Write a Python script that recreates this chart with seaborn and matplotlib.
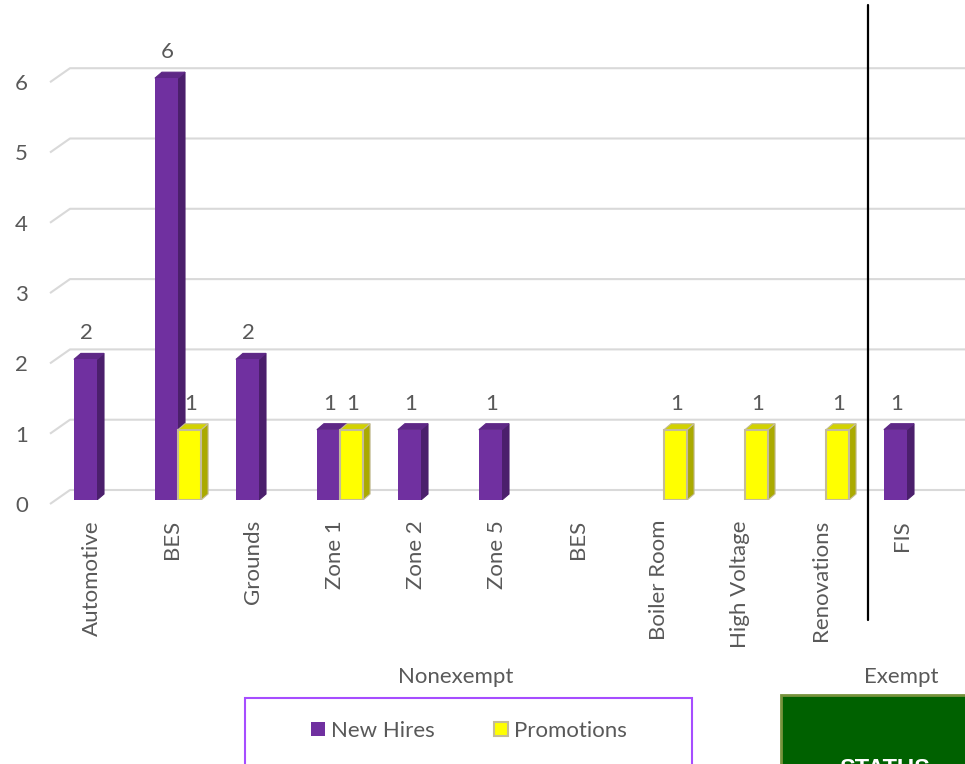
import matplotlib
matplotlib.use("Agg")
import matplotlib.pyplot as plt
from matplotlib.patches import Polygon, Rectangle, Patch
import seaborn as sns
import pandas as pd

# ---- data -------------------------------------------------------------
categories = ["Automotive", "BES", "Grounds", "Zone 1", "Zone 2", "Zone 5",
              "BES", "Boiler Room", "High Voltage", "Renovations", "FIS"]
groups = ["Nonexempt"] * 10 + ["Exempt"]
new_hires = [2, 6, 2, 1, 1, 1, 0, 0, 0, 0, 1]
promotions = [0, 1, 0, 1, 0, 0, 0, 1, 1, 1, 0]
series = ["New Hires", "Promotions"]
y_ticks = [0, 1, 2, 3, 4, 5, 6]

# ---- style ------------------------------------------------------------
PURPLE, PURPLE_SIDE, PURPLE_TOP = "#7030A0", "#4B1F6C", "#5E2886"
YELLOW, YELLOW_SIDE, YELLOW_TOP = "#FFFF00", "#AAAA00", "#D2D200"
TAN = "#C4BC98"
GRID = "#D9D9D9"
TEXT = "#595959"
FS = 16

sns.set_style("white")
plt.rcParams["font.family"] = ["Lato", "DejaVu Sans"]

W, H = 965, 764
fig = plt.figure(figsize=(W / 100, H / 100), dpi=100)
# plot area: floor front edge at 500 px, spans 50..965 px horizontally
ax = fig.add_axes([50 / W, (H - 500) / H, 915 / W, 500 / H])

SX, SY = 81.0, 70.3          # pixels per category slot / per unit of count
X0 = 97.0                    # pixel position of the first slot centre

df = pd.DataFrame({
    "slot": list(range(len(categories))) * 2,
    "count": new_hires + promotions,
    "series": [series[0]] * len(categories) + [series[1]] * len(categories),
})
sns.barplot(data=df, x="slot", y="count", hue="series", hue_order=series,
            palette=[PURPLE, YELLOW], width=0.57, gap=0, saturation=1,
            errorbar=None, legend=False, ax=ax)

ax.set_xlim((50 - X0) / SX, (965 - X0) / SX)
ax.set_ylim(0, 500 / SY)
ax.set_xticks([])
ax.set_yticks([])
ax.set_xlabel("")
ax.set_ylabel("")
for s in ax.spines.values():
    s.set_visible(False)
ax.patch.set_alpha(0)

# ---- back-wall gridlines with a short floor slant ---------------------
for v in y_ticks:
    back = v + 10 / SY
    ax.plot([(50 - X0) / SX, (70 - X0) / SX, (965 - X0) / SX],
            [v - 4 / SY, back, back],
            color=GRID, lw=1.5, clip_on=False, zorder=1,
            solid_capstyle="butt")
    ax.text((28 - X0) / SX, v - 6 / SY, str(v), ha="right", va="center",
            fontsize=FS, color=TEXT, clip_on=False)

# ---- 3D-looking bars --------------------------------------------------
dx, dy = 7 / SX, 6 / SY
face_styles = [(PURPLE_SIDE, PURPLE_TOP, "none", 3),
               (YELLOW_SIDE, YELLOW_TOP, TAN, 4)]
for cont, (side_c, top_c, edge_c, z) in zip(ax.containers, face_styles):
    for bar in cont.patches:
        x0, w, h = bar.get_x(), bar.get_width(), bar.get_height()
        if h <= 0:
            bar.set_visible(False)
            continue
        bar.set_zorder(z)
        if edge_c != "none":
            bar.set_edgecolor(edge_c)
            bar.set_linewidth(1.5)
        else:
            bar.set_edgecolor("none")
        x1 = x0 + w
        side = Polygon([(x1, 0), (x1 + dx, dy), (x1 + dx, h + dy), (x1, h)],
                       closed=True, facecolor=side_c,
                       edgecolor=edge_c if edge_c != "none" else side_c,
                       lw=0.8, zorder=z - 0.1)
        top = Polygon([(x0, h), (x1, h), (x1 + dx, h + dy), (x0 + dx, h + dy)],
                      closed=True, facecolor=top_c,
                      edgecolor=edge_c if edge_c != "none" else top_c,
                      lw=0.8, zorder=z - 0.1)
        ax.add_patch(side)
        ax.add_patch(top)
        ax.annotate(f"{int(h)}", (x0 + w / 2, h), xytext=(1, 26),
                    textcoords="offset pixels", ha="center", va="center",
                    fontsize=FS, color=TEXT, annotation_clip=False)

# ---- category and group labels ----------------------------------------
shift = -5.5 / SX
for i, name in enumerate(categories):
    ax.text(i + shift, -20 / SY, name, rotation=90, ha="center", va="top",
            fontsize=FS, color=TEXT, clip_on=False)

for g in dict.fromkeys(groups):
    idx = [i for i, gg in enumerate(groups) if gg == g]
    ax.text(sum(idx) / len(idx) + shift, -177 / SY, g, ha="center",
            va="center", fontsize=FS, color=TEXT, clip_on=False)

# separator between the two groups
sep_x = 9.5 + 1.5 / SX
ax.plot([sep_x, sep_x], [(500 - 5) / SY, (500 - 620) / SY], color="black",
        lw=1.6, clip_on=False, zorder=5)

# ---- legend -------------------------------------------------------------
fig.add_artist(Rectangle((245 / W, (H - 820) / H), 447 / W, (820 - 698) / H,
                         transform=fig.transFigure, facecolor="white",
                         edgecolor="#A64DFF", lw=1.5, zorder=0))
handles = [Patch(facecolor=PURPLE, edgecolor="none"),
           Patch(facecolor=YELLOW, edgecolor=TAN, lw=1.5)]
fig.legend(handles, series, loc="center left",
           bbox_to_anchor=(311 / W, (H - 731) / H), ncol=2, frameon=False,
           borderpad=0, borderaxespad=0, handlelength=0.63,
           handleheight=0.63, handletextpad=0.25, columnspacing=2.7,
           fontsize=FS, labelcolor=TEXT)

# ---- status badge -------------------------------------------------------
fig.add_artist(Rectangle((781 / W, (H - 830) / H), 220 / W, (830 - 695) / H,
                         transform=fig.transFigure, facecolor="#006100",
                         edgecolor="#77933C", lw=2, zorder=0))
fig.text(885 / W, (H - 776) / H, "STATUS", color="white", fontsize=17,
         fontweight="bold", family=["Liberation Sans", "DejaVu Sans"],
         ha="center", va="baseline")

fig.savefig("out.png", dpi=100)
